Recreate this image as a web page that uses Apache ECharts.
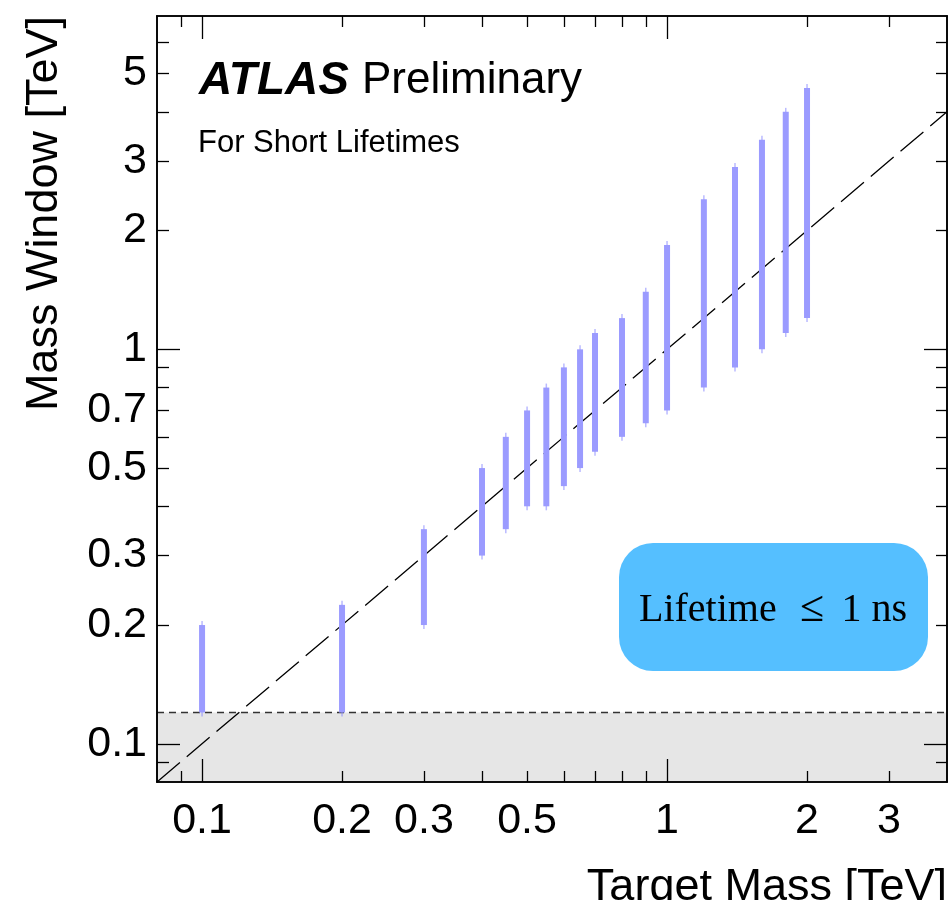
<!DOCTYPE html>
<html>
<head>
<meta charset="utf-8">
<script src="https://cdn.jsdelivr.net/npm/echarts@6/dist/echarts.min.js"></script>
<style>html,body{margin:0;padding:0;background:#fff;}#chart{width:950px;height:900px;}</style>
</head>
<body>
<div id="chart"></div>
<script>
// ---- data ----
const targetMass = [0.1, 0.2, 0.3, 0.4, 0.45, 0.5, 0.55, 0.6, 0.65, 0.7, 0.8, 0.9, 1.0, 1.2, 1.4, 1.6, 1.8, 2.0];
const windowLow  = [0.12, 0.12, 0.2, 0.3, 0.35, 0.4, 0.4, 0.45, 0.5, 0.55, 0.6, 0.65, 0.7, 0.8, 0.9, 1.0, 1.1, 1.2];
const windowHigh = [0.2, 0.225, 0.35, 0.5, 0.6, 0.7, 0.8, 0.9, 1.0, 1.1, 1.2, 1.4, 1.84, 2.4, 2.9, 3.4, 4.0, 4.6];
const diagonalX = [0.08, 4];
const diagonalY = [0.08, 4];
const lowMassCut = 0.12;   // m < 120 GeV
const xRange = [0.08, 4];
const yRange = [0.08, 7];
const xTickMinor = [0.09, 0.2, 0.3, 0.4, 0.5, 0.6, 0.7, 0.8, 0.9, 2, 3];
const xTickMajor = [0.1, 1];
const xTickLabels = [0.1, 0.2, 0.3, 0.5, 1, 2, 3];
const yTickMinor = [0.09, 0.2, 0.3, 0.4, 0.5, 0.6, 0.7, 0.8, 0.9, 2, 3, 4, 5, 6];
const yTickMajor = [0.1, 1];
const yTickLabels = [0.1, 0.2, 0.3, 0.5, 0.7, 1, 2, 3, 5];

const FONT = 'Liberation Sans, Helvetica, Arial, sans-serif';
const SERIF = '"Liberation Serif", "Times New Roman", serif';

const chart = echarts.init(document.getElementById('chart'), null, {renderer: 'canvas'});

function fmt(v) { return String(+v.toPrecision(6)); }

function mkAxis(kind, pos, ticks, len, labels, labelMargin) {
  const range = kind === 'x' ? xRange : yRange;
  const ax = {
    type: 'log', logBase: 10, min: range[0], max: range[1],
    position: pos, gridIndex: 0, z: 10,
    axisLine: {show: true, lineStyle: {color: '#000', width: 1.6}},
    axisTick: {show: true, inside: true, length: len, customValues: ticks,
               lineStyle: {color: '#000', width: 1.3}},
    splitLine: {show: false},
    minorTick: {show: false},
    axisLabel: {show: false}
  };
  if (labels) {
    ax.axisLabel = {
      show: true, customValues: labels, margin: labelMargin,
      color: '#000', fontSize: 43, fontFamily: FONT,
      formatter: fmt
    };
  }
  return ax;
}

const option = {
  animation: false,
  backgroundColor: '#fff',
  grid: {left: 157, top: 16, right: 3, bottom: 118, containLabel: false},
  xAxis: [
    mkAxis('x', 'bottom', xTickMinor, 11, xTickLabels, 18),
    mkAxis('x', 'bottom', xTickMajor, 23, null),
    mkAxis('x', 'top', xTickMinor, 11, null),
    mkAxis('x', 'top', xTickMajor, 23, null)
  ],
  yAxis: [
    mkAxis('y', 'left', yTickMinor, 12, yTickLabels, 10),
    mkAxis('y', 'left', yTickMajor, 23, null),
    mkAxis('y', 'right', yTickMinor, 11, null),
    mkAxis('y', 'right', yTickMajor, 23, null)
  ],
  series: [
    {
      name: 'low mass band',
      type: 'custom',
      xAxisIndex: 0, yAxisIndex: 0,
      z: 1,
      silent: true,
      data: [[xRange[0], yRange[0], xRange[1], lowMassCut]],
      renderItem: function (params, api) {
        const p0 = api.coord([api.value(0), api.value(1)]);
        const p1 = api.coord([api.value(2), api.value(3)]);
        return {
          type: 'group',
          children: [
            {type: 'rect', shape: {x: p0[0], y: p1[1], width: p1[0] - p0[0], height: p0[1] - p1[1]},
             style: {fill: '#e6e6e6'}},
            {type: 'line', shape: {x1: p0[0], y1: p1[1], x2: p1[0], y2: p1[1]},
             style: {stroke: '#333', lineWidth: 1.5, lineDash: [7, 5]}}
          ]
        };
      }
    },
    {
      name: 'diagonal',
      type: 'line',
      xAxisIndex: 0, yAxisIndex: 0,
      z: 2,
      symbol: 'none',
      silent: true,
      data: diagonalX.map((x, i) => [x, diagonalY[i]]),
      lineStyle: {color: '#000', width: 1.3, type: [30, 9]}
    },
    {
      name: 'mass window',
      type: 'custom',
      xAxisIndex: 0, yAxisIndex: 0,
      z: 3,
      data: targetMass.map((m, i) => [m, windowLow[i], windowHigh[i]]),
      encode: {x: 0, y: [1, 2]},
      renderItem: function (params, api) {
        const lo = api.coord([api.value(0), api.value(1)]);
        const hi = api.coord([api.value(0), api.value(2)]);
        return {
          type: 'group',
          children: [
            {type: 'line', shape: {x1: lo[0], y1: lo[1] + 4, x2: hi[0], y2: hi[1] - 4},
             style: {stroke: 'rgba(130,130,255,0.55)', lineWidth: 1.5}},
            {type: 'rect', shape: {x: lo[0] - 3, y: hi[1], width: 6, height: lo[1] - hi[1]},
             style: {fill: '#9b9bff'}}
          ]
        };
      }
    }
  ],
  graphic: [
    {type: 'text', x: 45, y: 16, rotation: Math.PI / 2,
     style: {text: 'Mass Window [TeV]', font: '45px ' + FONT, fill: '#000',
             textAlign: 'right', textVerticalAlign: 'middle'}},
    {type: 'text', x: 947, y: 888,
     style: {text: 'Target Mass [TeV]', font: '45px ' + FONT, fill: '#000',
             textAlign: 'right', textVerticalAlign: 'middle'}},
    {type: 'text', x: 199, y: 81,
     style: {text: 'ATLAS', font: 'italic bold 46px ' + FONT, fill: '#000',
             textAlign: 'left', textVerticalAlign: 'middle'}},
    {type: 'text', x: 362, y: 81,
     style: {text: 'Preliminary', font: '44px ' + FONT, fill: '#000',
             textAlign: 'left', textVerticalAlign: 'middle'}},
    {type: 'text', x: 198, y: 143,
     style: {text: 'For Short Lifetimes', font: '31px ' + FONT, fill: '#000',
             textAlign: 'left', textVerticalAlign: 'middle'}},
    {type: 'rect', shape: {x: 619, y: 543, width: 309, height: 128, r: 34},
     style: {fill: '#55bfff'}},
    {type: 'text', x: 639, y: 610,
     style: {text: 'Lifetime', font: '40px ' + SERIF, fill: '#000',
             textAlign: 'left', textVerticalAlign: 'middle'}},
    {type: 'text', x: 800, y: 609,
     style: {text: '\u2264', font: '44px ' + SERIF, fill: '#000',
             textAlign: 'left', textVerticalAlign: 'middle'}},
    {type: 'text', x: 907, y: 610,
     style: {text: '1 ns', font: '40px ' + SERIF, fill: '#000',
             textAlign: 'right', textVerticalAlign: 'middle'}},
    {type: 'text', x: 902, y: 735,
     style: {text: 'm < 120 GeV', font: '26px ' + FONT, fill: '#000',
             textAlign: 'right', textVerticalAlign: 'middle'}}
  ]
};

chart.setOption(option);
</script>
</body>
</html>
